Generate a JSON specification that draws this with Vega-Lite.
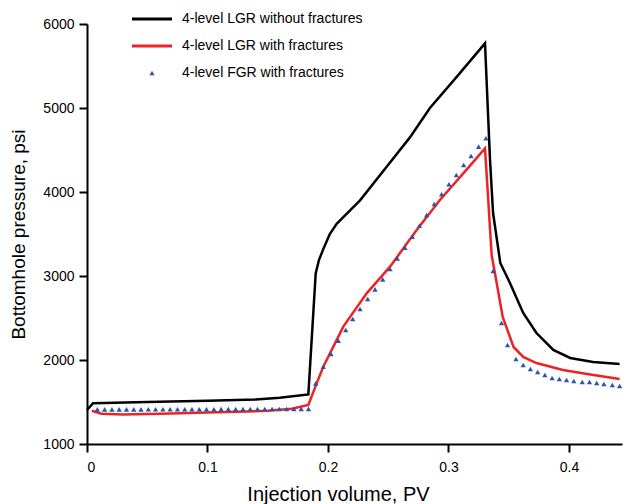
{
  "$schema": "https://vega.github.io/schema/vega-lite/v6.json",
  "width": 535,
  "height": 420,
  "autosize": {"type": "none"},
  "padding": {"left": 87, "top": 24, "right": 5, "bottom": 60},
  "background": "white",
  "config": {
    "view": {"stroke": null},
    "axis": {
      "domainColor": "black", "domainWidth": 2, "tickColor": "black", "tickWidth": 2, "tickSize": 8,
      "grid": false, "labelFont": "Liberation Sans", "labelFontSize": 14, "labelColor": "black",
      "titleFont": "Liberation Sans", "titleFontSize": 19, "titleFontWeight": "normal", "titleColor": "black"
    }
  },
  "datasets": {
    "pts": [
      {"s": "4-level LGR without fractures", "x": 0, "y": 1405},
      {"s": "4-level LGR without fractures", "x": 0.005, "y": 1485},
      {"s": "4-level LGR without fractures", "x": 0.05, "y": 1500},
      {"s": "4-level LGR without fractures", "x": 0.1, "y": 1515},
      {"s": "4-level LGR without fractures", "x": 0.14, "y": 1530},
      {"s": "4-level LGR without fractures", "x": 0.16, "y": 1550},
      {"s": "4-level LGR without fractures", "x": 0.1837, "y": 1590},
      {"s": "4-level LGR without fractures", "x": 0.1898, "y": 3030},
      {"s": "4-level LGR without fractures", "x": 0.1925, "y": 3190},
      {"s": "4-level LGR without fractures", "x": 0.1961, "y": 3320},
      {"s": "4-level LGR without fractures", "x": 0.2015, "y": 3500},
      {"s": "4-level LGR without fractures", "x": 0.2072, "y": 3620},
      {"s": "4-level LGR without fractures", "x": 0.2266, "y": 3900},
      {"s": "4-level LGR without fractures", "x": 0.2487, "y": 4300},
      {"s": "4-level LGR without fractures", "x": 0.268, "y": 4650},
      {"s": "4-level LGR without fractures", "x": 0.2846, "y": 5000},
      {"s": "4-level LGR without fractures", "x": 0.3068, "y": 5370},
      {"s": "4-level LGR without fractures", "x": 0.3303, "y": 5770},
      {"s": "4-level LGR without fractures", "x": 0.3344, "y": 4400},
      {"s": "4-level LGR without fractures", "x": 0.337, "y": 3750},
      {"s": "4-level LGR without fractures", "x": 0.343, "y": 3155},
      {"s": "4-level LGR without fractures", "x": 0.351, "y": 2917},
      {"s": "4-level LGR without fractures", "x": 0.362, "y": 2560},
      {"s": "4-level LGR without fractures", "x": 0.373, "y": 2321},
      {"s": "4-level LGR without fractures", "x": 0.387, "y": 2119},
      {"s": "4-level LGR without fractures", "x": 0.401, "y": 2024},
      {"s": "4-level LGR without fractures", "x": 0.42, "y": 1976},
      {"s": "4-level LGR without fractures", "x": 0.442, "y": 1952},
      {"s": "4-level LGR with fractures", "x": 0.004, "y": 1395},
      {"s": "4-level LGR with fractures", "x": 0.012, "y": 1360},
      {"s": "4-level LGR with fractures", "x": 0.03, "y": 1352},
      {"s": "4-level LGR with fractures", "x": 0.07, "y": 1362},
      {"s": "4-level LGR with fractures", "x": 0.1, "y": 1375},
      {"s": "4-level LGR with fractures", "x": 0.15, "y": 1395},
      {"s": "4-level LGR with fractures", "x": 0.17, "y": 1420},
      {"s": "4-level LGR with fractures", "x": 0.1837, "y": 1465},
      {"s": "4-level LGR with fractures", "x": 0.1906, "y": 1722},
      {"s": "4-level LGR with fractures", "x": 0.1961, "y": 1920},
      {"s": "4-level LGR with fractures", "x": 0.2127, "y": 2397},
      {"s": "4-level LGR with fractures", "x": 0.2321, "y": 2794},
      {"s": "4-level LGR with fractures", "x": 0.2515, "y": 3111},
      {"s": "4-level LGR with fractures", "x": 0.2736, "y": 3548},
      {"s": "4-level LGR with fractures", "x": 0.2929, "y": 3905},
      {"s": "4-level LGR with fractures", "x": 0.3123, "y": 4222},
      {"s": "4-level LGR with fractures", "x": 0.3303, "y": 4520},
      {"s": "4-level LGR with fractures", "x": 0.333, "y": 3905},
      {"s": "4-level LGR with fractures", "x": 0.3358, "y": 3250},
      {"s": "4-level LGR with fractures", "x": 0.34, "y": 2917},
      {"s": "4-level LGR with fractures", "x": 0.345, "y": 2512},
      {"s": "4-level LGR with fractures", "x": 0.354, "y": 2155},
      {"s": "4-level LGR with fractures", "x": 0.362, "y": 2036},
      {"s": "4-level LGR with fractures", "x": 0.373, "y": 1964},
      {"s": "4-level LGR with fractures", "x": 0.395, "y": 1881},
      {"s": "4-level LGR with fractures", "x": 0.415, "y": 1833},
      {"s": "4-level LGR with fractures", "x": 0.442, "y": 1774},
      {"s": "4-level FGR with fractures", "x": 0.0086, "y": 1412},
      {"s": "4-level FGR with fractures", "x": 0.0146, "y": 1412},
      {"s": "4-level FGR with fractures", "x": 0.0207, "y": 1412},
      {"s": "4-level FGR with fractures", "x": 0.0267, "y": 1412},
      {"s": "4-level FGR with fractures", "x": 0.0328, "y": 1412},
      {"s": "4-level FGR with fractures", "x": 0.0388, "y": 1412},
      {"s": "4-level FGR with fractures", "x": 0.0448, "y": 1412},
      {"s": "4-level FGR with fractures", "x": 0.0509, "y": 1413},
      {"s": "4-level FGR with fractures", "x": 0.0569, "y": 1413},
      {"s": "4-level FGR with fractures", "x": 0.063, "y": 1413},
      {"s": "4-level FGR with fractures", "x": 0.069, "y": 1413},
      {"s": "4-level FGR with fractures", "x": 0.0751, "y": 1413},
      {"s": "4-level FGR with fractures", "x": 0.0811, "y": 1414},
      {"s": "4-level FGR with fractures", "x": 0.0871, "y": 1414},
      {"s": "4-level FGR with fractures", "x": 0.0932, "y": 1414},
      {"s": "4-level FGR with fractures", "x": 0.0992, "y": 1414},
      {"s": "4-level FGR with fractures", "x": 0.1053, "y": 1414},
      {"s": "4-level FGR with fractures", "x": 0.1113, "y": 1415},
      {"s": "4-level FGR with fractures", "x": 0.1173, "y": 1415},
      {"s": "4-level FGR with fractures", "x": 0.1234, "y": 1415},
      {"s": "4-level FGR with fractures", "x": 0.1294, "y": 1415},
      {"s": "4-level FGR with fractures", "x": 0.1355, "y": 1416},
      {"s": "4-level FGR with fractures", "x": 0.1415, "y": 1416},
      {"s": "4-level FGR with fractures", "x": 0.1476, "y": 1416},
      {"s": "4-level FGR with fractures", "x": 0.1536, "y": 1417},
      {"s": "4-level FGR with fractures", "x": 0.1596, "y": 1417},
      {"s": "4-level FGR with fractures", "x": 0.1657, "y": 1417},
      {"s": "4-level FGR with fractures", "x": 0.1717, "y": 1418},
      {"s": "4-level FGR with fractures", "x": 0.1778, "y": 1418},
      {"s": "4-level FGR with fractures", "x": 0.1838, "y": 1418},
      {"s": "4-level FGR with fractures", "x": 0.1898, "y": 1722},
      {"s": "4-level FGR with fractures", "x": 0.1961, "y": 1920},
      {"s": "4-level FGR with fractures", "x": 0.2025, "y": 2071},
      {"s": "4-level FGR with fractures", "x": 0.2086, "y": 2230},
      {"s": "4-level FGR with fractures", "x": 0.2147, "y": 2357},
      {"s": "4-level FGR with fractures", "x": 0.2205, "y": 2488},
      {"s": "4-level FGR with fractures", "x": 0.2266, "y": 2607},
      {"s": "4-level FGR with fractures", "x": 0.2329, "y": 2726},
      {"s": "4-level FGR with fractures", "x": 0.239, "y": 2841},
      {"s": "4-level FGR with fractures", "x": 0.2454, "y": 2960},
      {"s": "4-level FGR with fractures", "x": 0.2515, "y": 3083},
      {"s": "4-level FGR with fractures", "x": 0.2575, "y": 3210},
      {"s": "4-level FGR with fractures", "x": 0.2639, "y": 3337},
      {"s": "4-level FGR with fractures", "x": 0.27, "y": 3468},
      {"s": "4-level FGR with fractures", "x": 0.2758, "y": 3599},
      {"s": "4-level FGR with fractures", "x": 0.2819, "y": 3726},
      {"s": "4-level FGR with fractures", "x": 0.2882, "y": 3857},
      {"s": "4-level FGR with fractures", "x": 0.2943, "y": 3973},
      {"s": "4-level FGR with fractures", "x": 0.3004, "y": 4092},
      {"s": "4-level FGR with fractures", "x": 0.3065, "y": 4202},
      {"s": "4-level FGR with fractures", "x": 0.3126, "y": 4321},
      {"s": "4-level FGR with fractures", "x": 0.3187, "y": 4429},
      {"s": "4-level FGR with fractures", "x": 0.325, "y": 4540},
      {"s": "4-level FGR with fractures", "x": 0.3311, "y": 4639},
      {"s": "4-level FGR with fractures", "x": 0.337, "y": 3060},
      {"s": "4-level FGR with fractures", "x": 0.344, "y": 2440},
      {"s": "4-level FGR with fractures", "x": 0.349, "y": 2179},
      {"s": "4-level FGR with fractures", "x": 0.356, "y": 2012},
      {"s": "4-level FGR with fractures", "x": 0.362, "y": 1940},
      {"s": "4-level FGR with fractures", "x": 0.368, "y": 1893},
      {"s": "4-level FGR with fractures", "x": 0.374, "y": 1857},
      {"s": "4-level FGR with fractures", "x": 0.38, "y": 1821},
      {"s": "4-level FGR with fractures", "x": 0.386, "y": 1786},
      {"s": "4-level FGR with fractures", "x": 0.392, "y": 1774},
      {"s": "4-level FGR with fractures", "x": 0.398, "y": 1762},
      {"s": "4-level FGR with fractures", "x": 0.404, "y": 1750},
      {"s": "4-level FGR with fractures", "x": 0.411, "y": 1738},
      {"s": "4-level FGR with fractures", "x": 0.417, "y": 1738},
      {"s": "4-level FGR with fractures", "x": 0.423, "y": 1726},
      {"s": "4-level FGR with fractures", "x": 0.429, "y": 1714},
      {"s": "4-level FGR with fractures", "x": 0.436, "y": 1702},
      {"s": "4-level FGR with fractures", "x": 0.442, "y": 1690}
    ]
  },
  "data": {"name": "pts"},
  "encoding": {
    "x": {
      "field": "x", "type": "quantitative",
      "scale": {"domain": [0, 0.444], "nice": false, "zero": false},
      "axis": {"values": [0, 0.1, 0.2, 0.3, 0.4], "format": "~g", "title": "Injection volume, PV", "labelPadding": 8, "titlePadding": 10, "titleFontSize": 20, "titleX": 251}
    },
    "y": {
      "field": "y", "type": "quantitative",
      "scale": {"domain": [1000, 6000], "nice": false, "zero": false},
      "axis": {"values": [1000, 2000, 3000, 4000, 5000, 6000], "format": "d", "title": "Bottomhole pressure, psi", "labelPadding": 5, "titlePadding": 14}
    },
    "color": {
      "field": "s", "type": "nominal",
      "scale": {
        "domain": ["4-level LGR without fractures", "4-level LGR with fractures", "4-level FGR with fractures"],
        "range": ["#000000", "#ee2224", "#2b55a8"]
      },
      "legend": {
        "orient": "none", "legendX": 58, "legendY": -12, "title": null,
        "labelFont": "Liberation Sans", "labelFontSize": 14, "labelColor": "black", "labelLimit": 400,
        "symbolType": "stroke", "symbolSize": 1600, "symbolStrokeWidth": 3,
        "rowPadding": 13, "labelOffset": 23,
        "encode": {
          "symbols": {
            "update": {
              "shape": {"signal": "datum.value === '4-level FGR with fractures' ? 'triangle-up' : 'stroke'"},
              "size": {"signal": "datum.value === '4-level FGR with fractures' ? 25 : 1600"},
              "strokeWidth": {"signal": "datum.value === '4-level FGR with fractures' ? 0 : 3"},
              "fill": {"signal": "datum.value === '4-level FGR with fractures' ? '#2b55a8' : 'transparent'"},
              "stroke": {"signal": "datum.value === '4-level FGR with fractures' ? 'transparent' : (datum.value === '4-level LGR with fractures' ? '#ee2224' : '#000000')"},
              "opacity": {"value": 1}
            }
          }
        }
      }
    }
  },
  "layer": [
    {
      "transform": [{"filter": "datum.s !== '4-level FGR with fractures'"}],
      "mark": {"type": "line", "strokeWidth": 2.5},
      "encoding": {"detail": {"field": "s"}, "order": {"field": "x", "type": "quantitative"}}
    },
    {
      "transform": [{"filter": "datum.s === '4-level FGR with fractures'"}],
      "mark": {"type": "point", "shape": "triangle-up", "filled": true, "size": 28, "opacity": 1}
    }
  ]
}
